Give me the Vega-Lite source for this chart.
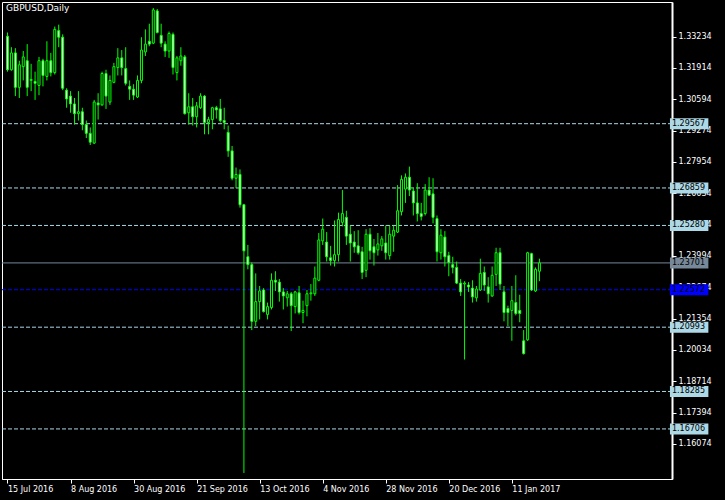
{
"$schema":"https://vega.github.io/schema/vega-lite/v6.json",
"width":670,"height":477,
"autosize":{"type":"none"},
"padding":{"left":2,"top":2,"right":53,"bottom":21},
"background":"#000000",
"title":{"text":"GBPUSD,Daily","anchor":"start","frame":"group","offset":-11,"dx":4,"color":"#ffffff","font":"DejaVu Sans","fontSize":9,"fontWeight":"normal"},
"config":{"view":{"stroke":"#ffffff","strokeWidth":1},"axis":{"labelFont":"DejaVu Sans","labelFontSize":8,"labelColor":"#ffffff","tickColor":"#ffffff","domainColor":"#ffffff","grid":false,"tickSize":4,"labelPadding":2}},
"datasets":{
"levels":[
{"level":1.29567,"kind":"line"},{"level":1.26859,"kind":"line"},{"level":1.25280,"kind":"line"},{"level":1.23701,"kind":"bid"},{"level":1.22572,"kind":"blue"},{"level":1.20993,"kind":"line"},{"level":1.18285,"kind":"line"},{"level":1.16706,"kind":"line"}],
"candles":[
{"i":0,"open":1.3325,"high":1.3341,"low":1.3176,"close":1.3184},
{"i":1,"open":1.3184,"high":1.3279,"low":1.3180,"close":1.3255},
{"i":2,"open":1.3255,"high":1.3275,"low":1.3073,"close":1.3110},
{"i":3,"open":1.3110,"high":1.3222,"low":1.3065,"close":1.3205},
{"i":4,"open":1.3197,"high":1.3263,"low":1.3139,"close":1.3238},
{"i":5,"open":1.3222,"high":1.3292,"low":1.3073,"close":1.3110},
{"i":6,"open":1.3139,"high":1.3209,"low":1.3094,"close":1.3143},
{"i":7,"open":1.3135,"high":1.3176,"low":1.3057,"close":1.3127},
{"i":8,"open":1.3118,"high":1.3238,"low":1.3077,"close":1.3222},
{"i":9,"open":1.3222,"high":1.3230,"low":1.3114,"close":1.3160},
{"i":10,"open":1.3156,"high":1.3304,"low":1.3139,"close":1.3222},
{"i":11,"open":1.3222,"high":1.3255,"low":1.3156,"close":1.3172},
{"i":12,"open":1.3172,"high":1.3366,"low":1.3164,"close":1.3354},
{"i":13,"open":1.3349,"high":1.3374,"low":1.3279,"close":1.3321},
{"i":14,"open":1.3321,"high":1.3333,"low":1.3098,"close":1.3106},
{"i":15,"open":1.3098,"high":1.3106,"low":1.3024,"close":1.3061},
{"i":16,"open":1.3073,"high":1.3094,"low":1.3003,"close":1.3040},
{"i":17,"open":1.3040,"high":1.3065,"low":1.2953,"close":1.2999},
{"i":18,"open":1.2999,"high":1.3094,"low":1.2970,"close":1.3007},
{"i":19,"open":1.3007,"high":1.3024,"low":1.2929,"close":1.2953},
{"i":20,"open":1.2953,"high":1.2970,"low":1.2896,"close":1.2916},
{"i":21,"open":1.2916,"high":1.2941,"low":1.2867,"close":1.2879},
{"i":22,"open":1.2875,"high":1.3057,"low":1.2871,"close":1.3048},
{"i":23,"open":1.3044,"high":1.3085,"low":1.2974,"close":1.3036},
{"i":24,"open":1.3036,"high":1.3176,"low":1.3032,"close":1.3168},
{"i":25,"open":1.3168,"high":1.3184,"low":1.3019,"close":1.3073},
{"i":26,"open":1.3048,"high":1.3160,"low":1.3036,"close":1.3139},
{"i":27,"open":1.3131,"high":1.3213,"low":1.3127,"close":1.3197},
{"i":28,"open":1.3193,"high":1.3275,"low":1.3160,"close":1.3234},
{"i":29,"open":1.3234,"high":1.3267,"low":1.3160,"close":1.3193},
{"i":30,"open":1.3189,"high":1.3279,"low":1.3118,"close":1.3127},
{"i":31,"open":1.3114,"high":1.3139,"low":1.3057,"close":1.3102},
{"i":32,"open":1.3102,"high":1.3123,"low":1.3057,"close":1.3077},
{"i":33,"open":1.3069,"high":1.3160,"low":1.3065,"close":1.3139},
{"i":34,"open":1.3139,"high":1.3321,"low":1.3127,"close":1.3267},
{"i":35,"open":1.3259,"high":1.3354,"low":1.3242,"close":1.3292},
{"i":36,"open":1.3304,"high":1.3378,"low":1.3283,"close":1.3292},
{"i":37,"open":1.3296,"high":1.3444,"low":1.3292,"close":1.3436},
{"i":38,"open":1.3432,"high":1.3440,"low":1.3337,"close":1.3341},
{"i":39,"open":1.3329,"high":1.3378,"low":1.3279,"close":1.3296},
{"i":40,"open":1.3292,"high":1.3304,"low":1.3238,"close":1.3263},
{"i":41,"open":1.3263,"high":1.3345,"low":1.3234,"close":1.3337},
{"i":42,"open":1.3333,"high":1.3341,"low":1.3164,"close":1.3193},
{"i":43,"open":1.3172,"high":1.3242,"low":1.3139,"close":1.3234},
{"i":44,"open":1.3222,"high":1.3279,"low":1.3201,"close":1.3242},
{"i":45,"open":1.3238,"high":1.3246,"low":1.2995,"close":1.2999},
{"i":46,"open":1.3003,"high":1.3085,"low":1.2953,"close":1.3028},
{"i":47,"open":1.3028,"high":1.3065,"low":1.2949,"close":1.2986},
{"i":48,"open":1.2986,"high":1.3048,"low":1.2941,"close":1.3032},
{"i":49,"open":1.3024,"high":1.3085,"low":1.3019,"close":1.3073},
{"i":50,"open":1.3073,"high":1.3077,"low":1.2912,"close":1.2962},
{"i":51,"open":1.2962,"high":1.2986,"low":1.2912,"close":1.2974},
{"i":52,"open":1.2974,"high":1.3028,"low":1.2933,"close":1.3024},
{"i":53,"open":1.3024,"high":1.3032,"low":1.2978,"close":1.3015},
{"i":54,"open":1.3019,"high":1.3061,"low":1.2962,"close":1.2970},
{"i":55,"open":1.2970,"high":1.3024,"low":1.2933,"close":1.2962},
{"i":56,"open":1.2920,"high":1.2949,"low":1.2817,"close":1.2842},
{"i":57,"open":1.2842,"high":1.2863,"low":1.2718,"close":1.2727},
{"i":58,"open":1.2727,"high":1.2772,"low":1.2685,"close":1.2743},
{"i":59,"open":1.2743,"high":1.2764,"low":1.2603,"close":1.2615},
{"i":60,"open":1.2615,"high":1.2619,"low":1.1485,"close":1.2421},
{"i":61,"open":1.2396,"high":1.2446,"low":1.2343,"close":1.2363},
{"i":62,"open":1.2363,"high":1.2372,"low":1.2087,"close":1.2124},
{"i":63,"open":1.2124,"high":1.2326,"low":1.2104,"close":1.2207},
{"i":64,"open":1.2207,"high":1.2273,"low":1.2132,"close":1.2252},
{"i":65,"open":1.2256,"high":1.2264,"low":1.2161,"close":1.2165},
{"i":66,"open":1.2153,"high":1.2203,"low":1.2132,"close":1.2186},
{"i":67,"open":1.2182,"high":1.2326,"low":1.2174,"close":1.2297},
{"i":68,"open":1.2297,"high":1.2335,"low":1.2252,"close":1.2289},
{"i":69,"open":1.2289,"high":1.2302,"low":1.2207,"close":1.2248},
{"i":70,"open":1.2248,"high":1.2264,"low":1.2174,"close":1.2231},
{"i":71,"open":1.2223,"high":1.2252,"low":1.2186,"close":1.2240},
{"i":72,"open":1.2240,"high":1.2248,"low":1.2083,"close":1.2190},
{"i":73,"open":1.2186,"high":1.2252,"low":1.2157,"close":1.2248},
{"i":74,"open":1.2244,"high":1.2273,"low":1.2153,"close":1.2161},
{"i":75,"open":1.2161,"high":1.2211,"low":1.2116,"close":1.2170},
{"i":76,"open":1.2190,"high":1.2256,"low":1.2145,"close":1.2240},
{"i":77,"open":1.2240,"high":1.2281,"low":1.2211,"close":1.2244},
{"i":78,"open":1.2240,"high":1.2355,"low":1.2231,"close":1.2306},
{"i":79,"open":1.2297,"high":1.2496,"low":1.2293,"close":1.2467},
{"i":80,"open":1.2463,"high":1.2557,"low":1.2446,"close":1.2512},
{"i":81,"open":1.2458,"high":1.2500,"low":1.2376,"close":1.2396},
{"i":82,"open":1.2392,"high":1.2442,"low":1.2359,"close":1.2380},
{"i":83,"open":1.2380,"high":1.2549,"low":1.2355,"close":1.2405},
{"i":84,"open":1.2405,"high":1.2582,"low":1.2376,"close":1.2553},
{"i":85,"open":1.2541,"high":1.2677,"low":1.2524,"close":1.2578},
{"i":86,"open":1.2562,"high":1.2590,"low":1.2446,"close":1.2483},
{"i":87,"open":1.2491,"high":1.2528,"low":1.2376,"close":1.2454},
{"i":88,"open":1.2458,"high":1.2504,"low":1.2413,"close":1.2438},
{"i":89,"open":1.2442,"high":1.2508,"low":1.2405,"close":1.2413},
{"i":90,"open":1.2417,"high":1.2438,"low":1.2302,"close":1.2330},
{"i":91,"open":1.2339,"high":1.2512,"low":1.2310,"close":1.2491},
{"i":92,"open":1.2491,"high":1.2516,"low":1.2384,"close":1.2421},
{"i":93,"open":1.2438,"high":1.2471,"low":1.2359,"close":1.2413},
{"i":94,"open":1.2425,"high":1.2496,"low":1.2401,"close":1.2450},
{"i":95,"open":1.2442,"high":1.2483,"low":1.2421,"close":1.2471},
{"i":96,"open":1.2454,"high":1.2528,"low":1.2384,"close":1.2413},
{"i":97,"open":1.2401,"high":1.2528,"low":1.2384,"close":1.2491},
{"i":98,"open":1.2483,"high":1.2528,"low":1.2417,"close":1.2508},
{"i":99,"open":1.2500,"high":1.2698,"low":1.2496,"close":1.2590},
{"i":100,"open":1.2586,"high":1.2739,"low":1.2570,"close":1.2722},
{"i":101,"open":1.2681,"high":1.2747,"low":1.2623,"close":1.2731},
{"i":102,"open":1.2731,"high":1.2776,"low":1.2652,"close":1.2677},
{"i":103,"open":1.2673,"high":1.2685,"low":1.2570,"close":1.2623},
{"i":104,"open":1.2623,"high":1.2706,"low":1.2545,"close":1.2578},
{"i":105,"open":1.2578,"high":1.2623,"low":1.2549,"close":1.2566},
{"i":106,"open":1.2578,"high":1.2702,"low":1.2570,"close":1.2677},
{"i":107,"open":1.2677,"high":1.2731,"low":1.2652,"close":1.2656},
{"i":108,"open":1.2661,"high":1.2727,"low":1.2537,"close":1.2562},
{"i":109,"open":1.2557,"high":1.2570,"low":1.2376,"close":1.2417},
{"i":110,"open":1.2413,"high":1.2512,"low":1.2384,"close":1.2487},
{"i":111,"open":1.2479,"high":1.2504,"low":1.2355,"close":1.2396},
{"i":112,"open":1.2401,"high":1.2417,"low":1.2314,"close":1.2372},
{"i":113,"open":1.2363,"high":1.2396,"low":1.2326,"close":1.2351},
{"i":114,"open":1.2351,"high":1.2376,"low":1.2281,"close":1.2285},
{"i":115,"open":1.2285,"high":1.2302,"low":1.2231,"close":1.2248},
{"i":116,"open":1.2281,"high":1.2293,"low":1.1963,"close":1.2285},
{"i":117,"open":1.2277,"high":1.2289,"low":1.2248,"close":1.2269},
{"i":118,"open":1.2264,"high":1.2297,"low":1.2203,"close":1.2227},
{"i":119,"open":1.2223,"high":1.2273,"low":1.2207,"close":1.2260},
{"i":120,"open":1.2256,"high":1.2388,"low":1.2252,"close":1.2326},
{"i":121,"open":1.2330,"high":1.2355,"low":1.2252,"close":1.2277},
{"i":122,"open":1.2269,"high":1.2310,"low":1.2203,"close":1.2240},
{"i":123,"open":1.2231,"high":1.2355,"low":1.2227,"close":1.2318},
{"i":124,"open":1.2322,"high":1.2434,"low":1.2273,"close":1.2413},
{"i":125,"open":1.2413,"high":1.2434,"low":1.2256,"close":1.2281},
{"i":126,"open":1.2248,"high":1.2273,"low":1.2124,"close":1.2161},
{"i":127,"open":1.2178,"high":1.2190,"low":1.2104,"close":1.2161},
{"i":128,"open":1.2170,"high":1.2273,"low":1.2042,"close":1.2211},
{"i":129,"open":1.2203,"high":1.2318,"low":1.2149,"close":1.2157},
{"i":130,"open":1.2170,"high":1.2236,"low":1.2120,"close":1.2157},
{"i":131,"open":1.2042,"high":1.2087,"low":1.1984,"close":1.1988},
{"i":132,"open":1.2046,"high":1.2417,"low":1.2042,"close":1.2413},
{"i":133,"open":1.2409,"high":1.2413,"low":1.2252,"close":1.2256},
{"i":134,"open":1.2252,"high":1.2351,"low":1.2248,"close":1.2343},
{"i":135,"open":1.2335,"high":1.2388,"low":1.2293,"close":1.2370}]
},
"layer":[
{"data":{"name":"levels"},
 "mark":{"type":"rule","strokeWidth":1},
 "encoding":{
  "y":{"field":"level","type":"quantitative","title":null,"scale":{"domain":[1.14807,1.34484],"nice":false,"zero":false},
       "axis":{"orient":"right","title":null,"values":[1.33234,1.31914,1.30594,1.29274,1.27954,1.26634,1.25314,1.23994,1.22674,1.21354,1.20034,1.18714,1.17394,1.16074],"format":".5f","domainWidth":2,"labelOverlap":false,"labelFlush":false}},
  "color":{"field":"kind","type":"nominal","scale":{"domain":["line","bid","blue"],"range":["#add8e6","#778899","#0000ff"]},"legend":null},
  "strokeDash":{"field":"kind","type":"nominal","scale":{"domain":["line","bid","blue"],"range":[[4,2],[1,0],[4,2]]},"legend":null}}},
{"data":{"name":"candles"},
 "mark":{"type":"rule","color":"#00ff00","strokeWidth":1,"clip":true},
 "encoding":{
  "x":{"field":"i","type":"quantitative","title":null,"scale":{"domain":[-0.125,167.375],"nice":false,"zero":false},
       "axis":{"orient":"bottom","title":null,"values":[0,16,32,48,64,80,96,112,128],"labelExpr":"['15 Jul 2016','8 Aug 2016','30 Aug 2016','21 Sep 2016','13 Oct 2016','4 Nov 2016','28 Nov 2016','20 Dec 2016','11 Jan 2017'][round(datum.value/16)]","labelAlign":"left","labelBaseline":"top","labelOverlap":false,"labelFlush":false}},
  "y":{"field":"low","type":"quantitative","title":null,"scale":{"domain":[1.14807,1.34484],"nice":false,"zero":false},
       "axis":{"orient":"right","title":null,"values":[1.33234,1.31914,1.30594,1.29274,1.27954,1.26634,1.25314,1.23994,1.22674,1.21354,1.20034,1.18714,1.17394,1.16074],"format":".5f","domainWidth":2,"labelOverlap":false,"labelFlush":false}},
  "y2":{"field":"high"}}},
{"data":{"name":"candles"},
 "mark":{"type":"bar","size":2,"stroke":"#00ff00","strokeWidth":1,"clip":true},
 "encoding":{
  "x":{"field":"i","type":"quantitative","title":null,"scale":{"domain":[-0.125,167.375],"nice":false,"zero":false},
       "axis":{"orient":"bottom","title":null,"values":[0,16,32,48,64,80,96,112,128],"labelExpr":"['15 Jul 2016','8 Aug 2016','30 Aug 2016','21 Sep 2016','13 Oct 2016','4 Nov 2016','28 Nov 2016','20 Dec 2016','11 Jan 2017'][round(datum.value/16)]","labelAlign":"left","labelBaseline":"top","labelOverlap":false,"labelFlush":false}},
  "y":{"field":"open","type":"quantitative","title":null,"scale":{"domain":[1.14807,1.34484],"nice":false,"zero":false},
       "axis":{"orient":"right","title":null,"values":[1.33234,1.31914,1.30594,1.29274,1.27954,1.26634,1.25314,1.23994,1.22674,1.21354,1.20034,1.18714,1.17394,1.16074],"format":".5f","domainWidth":2,"labelOverlap":false,"labelFlush":false}},
  "y2":{"field":"close"},
  "fill":{"condition":{"test":"datum.open > datum.close","value":"#ffffff"},"value":"#000000"}}},
{"data":{"name":"levels"},
 "mark":{"type":"bar","orient":"horizontal","size":11,"clip":false},
 "encoding":{
  "x":{"datum":168.125,"type":"quantitative","title":null,"scale":{"domain":[-0.125,167.375],"nice":false,"zero":false},
       "axis":{"orient":"bottom","title":null,"values":[0,16,32,48,64,80,96,112,128],"labelExpr":"['15 Jul 2016','8 Aug 2016','30 Aug 2016','21 Sep 2016','13 Oct 2016','4 Nov 2016','28 Nov 2016','20 Dec 2016','11 Jan 2017'][round(datum.value/16)]","labelAlign":"left","labelBaseline":"top","labelOverlap":false,"labelFlush":false}},
  "x2":{"datum":177.875},
  "y":{"field":"level","type":"quantitative","title":null,"scale":{"domain":[1.14807,1.34484],"nice":false,"zero":false},
       "axis":{"orient":"right","title":null,"values":[1.33234,1.31914,1.30594,1.29274,1.27954,1.26634,1.25314,1.23994,1.22674,1.21354,1.20034,1.18714,1.17394,1.16074],"format":".5f","domainWidth":2,"labelOverlap":false,"labelFlush":false}},
  "color":{"field":"kind","type":"nominal","scale":{"domain":["line","bid","blue"],"range":["#add8e6","#778899","#0000ff"]},"legend":null}}},
{"data":{"name":"levels"},
 "mark":{"type":"text","align":"left","baseline":"middle","font":"DejaVu Sans","fontSize":8,"color":"#000000","clip":false},
 "encoding":{
  "x":{"datum":168.625,"type":"quantitative","title":null,"scale":{"domain":[-0.125,167.375],"nice":false,"zero":false},
       "axis":{"orient":"bottom","title":null,"values":[0,16,32,48,64,80,96,112,128],"labelExpr":"['15 Jul 2016','8 Aug 2016','30 Aug 2016','21 Sep 2016','13 Oct 2016','4 Nov 2016','28 Nov 2016','20 Dec 2016','11 Jan 2017'][round(datum.value/16)]","labelAlign":"left","labelBaseline":"top","labelOverlap":false,"labelFlush":false}},
  "y":{"field":"level","type":"quantitative","title":null,"scale":{"domain":[1.14807,1.34484],"nice":false,"zero":false},
       "axis":{"orient":"right","title":null,"values":[1.33234,1.31914,1.30594,1.29274,1.27954,1.26634,1.25314,1.23994,1.22674,1.21354,1.20034,1.18714,1.17394,1.16074],"format":".5f","domainWidth":2,"labelOverlap":false,"labelFlush":false}},
  "text":{"field":"level","type":"quantitative","format":".5f"}}}
]
}
